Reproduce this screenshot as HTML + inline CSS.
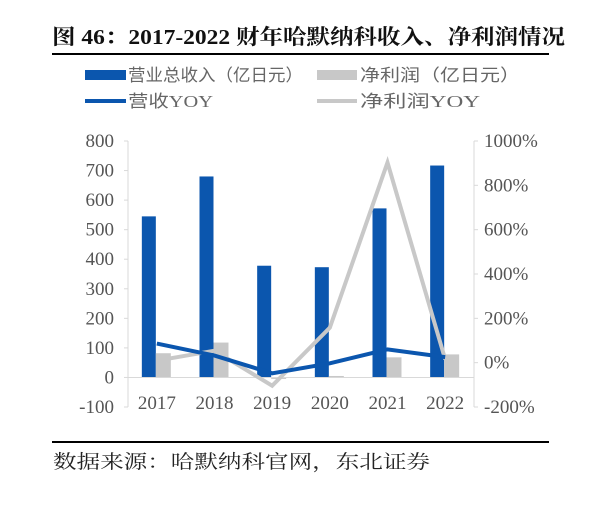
<!DOCTYPE html>
<html><head><meta charset="utf-8"><style>
body{margin:0;background:#fff;width:600px;height:519px;overflow:hidden;font-family:"Liberation Serif","Noto Serif CJK SC",serif;}
</style></head><body>
<svg width="600" height="519" xmlns="http://www.w3.org/2000/svg">
<text x="52" y="44" font-size="21" font-weight="bold" fill="#111" textLength="513" lengthAdjust="spacingAndGlyphs" font-family="Liberation Serif, Noto Serif CJK SC, serif">图 46：2017-2022 财年哈默纳科收入、净利润情况</text>
<line x1="52" y1="54" x2="549" y2="54" stroke="#000" stroke-width="2"/>
<g font-size="17" fill="#666" font-family="Liberation Serif, Noto Sans CJK SC, serif">
<rect x="85" y="70" width="41" height="10" fill="#0b56ae"/>
<text x="128" y="81" textLength="175" lengthAdjust="spacingAndGlyphs">营业总收入（亿日元）</text>
<rect x="317" y="70" width="40" height="10" fill="#c8c8c8"/>
<text x="360" y="81" textLength="160" lengthAdjust="spacingAndGlyphs">净利润（亿日元）</text>
<line x1="85" y1="101" x2="126" y2="101" stroke="#0b56ae" stroke-width="4"/>
<text x="128" y="107" textLength="85" lengthAdjust="spacingAndGlyphs">营收YOY</text>
<line x1="317" y1="101" x2="357" y2="101" stroke="#c8c8c8" stroke-width="4"/>
<text x="360" y="107" textLength="120" lengthAdjust="spacingAndGlyphs">净利润YOY</text>
</g>
<g id="plot"></g>
<line x1="52" y1="442" x2="549" y2="442" stroke="#000" stroke-width="2"/>
<text x="53" y="468" font-size="19" fill="#222" textLength="377" lengthAdjust="spacingAndGlyphs" font-family="Liberation Serif, Noto Serif CJK SC, serif">数据来源：哈默纳科官网，东北证券</text>
</svg>
<script>
const categories=["2017","2018","2019","2020","2021","2022"];
const revenue=[545,680,378,373,572,717];
const profit=[82,118,-5,5,68,78];
const revenueYoy=[86,32,-48,-3,60,25];
const profitYoy=[9,54,-104,158,903,15];
const leftTicks=[-100,0,100,200,300,400,500,600,700,800];
const rightTicks=[-200,0,200,400,600,800,1000];
const NS="http://www.w3.org/2000/svg";
const g=document.getElementById('plot');
const X0=128,X1=474,YT=141,YB=407;
const yL=v=>YB-(v+100)/900*(YB-YT);
const yR=v=>YB-(v+200)/1200*(YB-YT);
const band=(X1-X0)/categories.length;
const xc=i=>X0+band*(i+0.5);
function mk(t,a){const e=document.createElementNS(NS,t);for(const k in a)e.setAttribute(k,a[k]);g.appendChild(e);return e;}
let e;
e=mk('line',{x1:X0,y1:YT,x2:X0,y2:YB,stroke:'#d9d9d9'});


e=mk('line',{x1:X1,y1:YT,x2:X1,y2:YB,stroke:'#d9d9d9'});


leftTicks.forEach(v=>{
 e=mk('text',{x:X0-14,y:yL(v)+6,'text-anchor':'end','font-size':19,fill:'#555'});e.textContent=v;
 
 
 mk('line',{x1:X0-4,y1:yL(v),x2:X0,y2:yL(v),stroke:'#d9d9d9'});
});
rightTicks.forEach(v=>{
 e=mk('text',{x:X1+10,y:yR(v)+6,'font-size':19,fill:'#555'});e.textContent=v+'%';
 
 
 mk('line',{x1:X1,y1:yR(v),x2:X1+4,y2:yR(v),stroke:'#d9d9d9'});
});
categories.forEach((c,i)=>{
 e=mk('text',{x:xc(i),y:YB+2,'text-anchor':'middle','font-size':19,fill:'#555'});e.textContent=c;
 
 
 const y0=yL(0);
 e=mk('rect',{x:xc(i)-15,y:Math.min(yL(revenue[i]),y0),width:14,height:Math.abs(yL(revenue[i])-y0),fill:'#0b56ae'});
 
 
 e=mk('rect',{x:xc(i)-1,y:Math.min(yL(profit[i]),y0),width:15,height:Math.abs(yL(profit[i])-y0),fill:'#c8c8c8'});
 
 
});
e=mk('line',{x1:X0,y1:yL(0),x2:X1,y2:yL(0),stroke:'#d9d9d9'});


e=mk('polyline',{points:profitYoy.map((v,i)=>xc(i)+','+yR(v)).join(' '),fill:'none',stroke:'#c8c8c8','stroke-width':4});


e=mk('polyline',{points:revenueYoy.map((v,i)=>xc(i)+','+yR(v)).join(' '),fill:'none',stroke:'#0b56ae','stroke-width':4});


</script>
</body></html>
